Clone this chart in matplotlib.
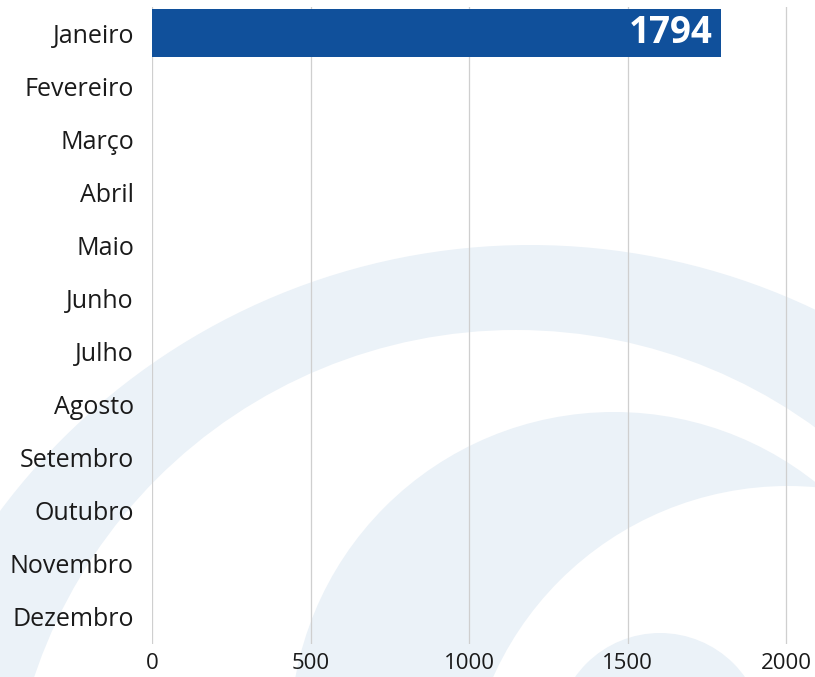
import numpy as np
import matplotlib
matplotlib.use("Agg")
import matplotlib.pyplot as plt
from matplotlib.patches import Circle
from matplotlib.transforms import Affine2D

months = ["Janeiro", "Fevereiro", "Março", "Abril", "Maio", "Junho", "Julho",
          "Agosto", "Setembro", "Outubro", "Novembro", "Dezembro"]
values = [1794, 0, 0, 0, 0, 0, 0, 0, 0, 0, 0, 0]
xticks = [0, 500, 1000, 1500, 2000]

plt.rcParams['font.family'] = ['Open Sans', 'DejaVu Sans']

W, H = 815, 677
fig = plt.figure(figsize=(W / 100, H / 100), dpi=100, facecolor='white')

# watermark arcs in the background (image pixels, y from top)
px = Affine2D().scale(1, -1).translate(0, H).scale(1 / 100) + fig.dpi_scale_trans
band = '#ebf2f8'
for (cx, cy, r, col, z) in [(530, 906, 661, band, -5),
                            (516, 838, 508, 'white', -4),
                            (614, 736, 324, band, -3),
                            (788, 809, 323, 'white', -2),
                            (660, 737, 104, band, -1)]:
    fig.add_artist(Circle((cx, cy), r, transform=px, facecolor=col,
                          edgecolor='none', zorder=z))

ax = fig.add_axes([152 / W, 1 - 643.5 / H, (W - 152) / W, (643.5 - 6.5) / H])
ax.patch.set_facecolor('none')

y = np.arange(len(months))
ax.barh(y, values, height=0.9, color='#10509b', zorder=3)
for yi, v in zip(y, values):
    if v > 0:
        ax.text(v - 27, yi, str(v), ha='right', va='center', color='white',
                fontsize=26.5, fontweight='bold', zorder=4)

ax.set_xlim(0, 2091)
ax.set_ylim(len(months) - 0.5, -0.5)
ax.set_yticks(y)
ax.set_yticklabels(months, fontsize=18, color='#1a1a1a')
ax.set_xticks(xticks)
ax.set_xticklabels([str(t) for t in xticks], fontsize=16, color='#1a1a1a')
ax.tick_params(axis='y', length=0, pad=13)
ax.tick_params(axis='x', length=0, pad=7)
ax.grid(axis='x', color='#cfcfcf', linewidth=0.9, zorder=0)
ax.set_axisbelow(True)
for s in ax.spines.values():
    s.set_visible(False)

fig.savefig('out.png', dpi=100, facecolor='white')
